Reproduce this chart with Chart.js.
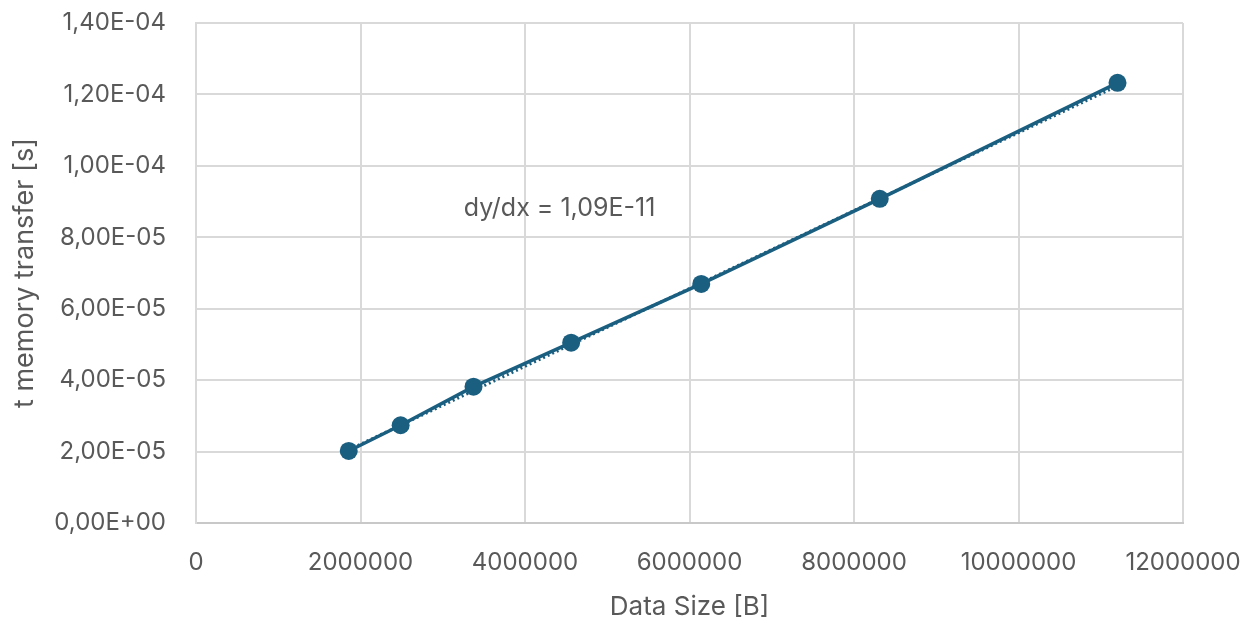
<!DOCTYPE html>
<html>
<head>
<meta charset="utf-8">
<script src="https://cdn.jsdelivr.net/npm/chart.js@4"></script>
<style>
  html, body { margin: 0; padding: 0; background: #ffffff; }
  #wrap { width: 1258px; height: 631px; position: relative; }
</style>
</head>
<body>
<div id="wrap"><canvas id="c"></canvas></div>
<script>
// Data
const dataSize = [1857000, 2488000, 3374000, 4561000, 6143000, 8313000, 11204000];
const tMemory = [2.017e-5, 2.737e-5, 3.818e-5, 5.05e-5, 6.695e-5, 9.076e-5, 1.2324e-4];
// Linear trendline endpoints (slope 1,09E-11)
const trendX = [1857000, 11204000];
const trendY = [2.05e-5, 1.224e-4];
const slopeText = 'dy/dx = 1,09E-11';
const noteAt = [4420000, 8.8e-5];
const xTitle = 'Data Size [B]';
const yTitle = 't memory transfer [s]';

const LINE = '#1a5e80';
const TEXT = '#595959';
const GRID = '#d9d9d9';
const FONT = 'Inter, "Open Sans", "Liberation Sans", sans-serif';

function fmtExp(v) {
  const s = Number(v).toExponential(2);
  const [m, e] = s.split('e');
  const n = parseInt(e, 10);
  const sign = n < 0 ? '-' : '+';
  const ab = String(Math.abs(n)).padStart(2, '0');
  return m.replace('.', ',') + 'E' + sign + ab;
}

const notePlugin = {
  id: 'note',
  afterDatasetsDraw(chart) {
    const { ctx, scales } = chart;
    const px = scales.x.getPixelForValue(noteAt[0]);
    const py = scales.y.getPixelForValue(noteAt[1]);
    ctx.save();
    ctx.font = '25px ' + FONT;
    ctx.fillStyle = TEXT;
    ctx.textAlign = 'center';
    ctx.textBaseline = 'middle';
    ctx.fillText(slopeText, px, py);
    ctx.restore();
  }
};

new Chart(document.getElementById('c'), {
  type: 'scatter',
  data: {
    datasets: [
      {
        label: 't memory transfer',
        data: dataSize.map((x, i) => ({ x: x, y: tMemory[i] })),
        showLine: true,
        borderColor: LINE,
        backgroundColor: LINE,
        borderWidth: 3.5,
        pointRadius: 9,
        pointHoverRadius: 9,
        pointBorderWidth: 0,
        order: 0
      },
      {
        label: 'trend',
        data: trendX.map((x, i) => ({ x: x, y: trendY[i] })),
        showLine: true,
        borderColor: LINE,
        borderWidth: 3,
        borderDash: [2, 3],
        pointRadius: 0,
        order: 1
      }
    ]
  },
  options: {
    responsive: true,
    maintainAspectRatio: false,
    animation: false,
    layout: { padding: { top: 23, right: 75, left: 0, bottom: 0 } },
    plugins: {
      legend: { display: false },
      tooltip: { enabled: false }
    },
    scales: {
      x: {
        type: 'linear',
        min: 0,
        max: 12000000,
        afterFit(s) { s.height = 108; },
        ticks: {
          stepSize: 2000000,
          color: TEXT,
          padding: 0,
          maxRotation: 0,
          font: { family: FONT, size: 24 },
          callback: v => String(v)
        },
        grid: { color: GRID, lineWidth: 2, drawTicks: true, tickLength: 25, tickColor: 'rgba(0,0,0,0)' },
        border: { color: '#c8c8c8', width: 2 },
        title: {
          display: true,
          text: xTitle,
          color: TEXT,
          font: { family: FONT, size: 26 },
          padding: { top: 0, bottom: 8 }
        }
      },
      y: {
        type: 'linear',
        min: 0,
        max: 1.4e-4,
        afterFit(s) { s.width = 196; },
        ticks: {
          stepSize: 2e-5,
          color: TEXT,
          padding: 0,
          font: { family: FONT, size: 24 },
          callback: v => fmtExp(v)
        },
        grid: { color: GRID, lineWidth: 2, drawTicks: true, tickLength: 30, tickColor: 'rgba(0,0,0,0)' },
        border: { color: GRID, width: 2 },
        title: {
          display: true,
          text: yTitle,
          color: TEXT,
          font: { family: FONT, size: 27 },
          padding: { top: 9, bottom: 0 }
        }
      }
    }
  },
  plugins: [notePlugin]
});
</script>
</body>
</html>
